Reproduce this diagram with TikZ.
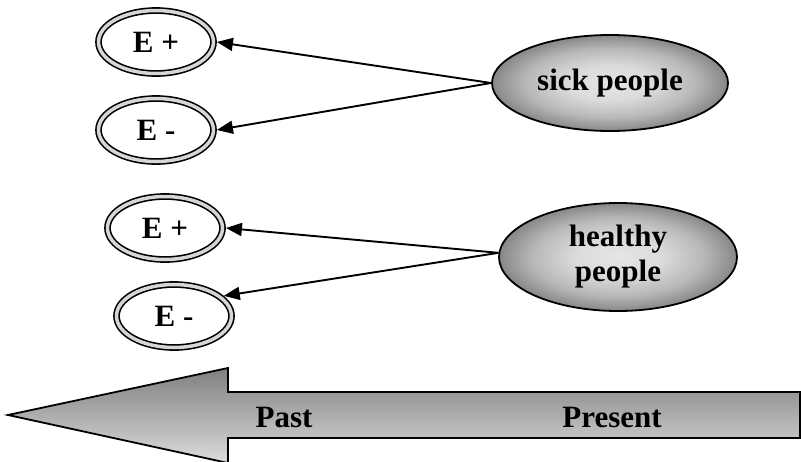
\documentclass[tikz,border=0pt]{standalone}
\usepackage{fontspec}
\setmainfont{Liberation Serif}
\usetikzlibrary{shapes.geometric,arrows.meta}
\pgfdeclareradialshading{grpshade}{\pgfpoint{0bp}{0bp}}{color(0bp)=(black!10); color(9bp)=(black!14); color(18bp)=(black!28); color(25bp)=(black!47); color(50bp)=(black!47)}
\begin{document}
\begin{tikzpicture}[x=1pt,y=-1pt,
  lbl/.style={font=\fontsize{31}{35}\selectfont\bfseries},
  expo/.style={ellipse, draw=black, line width=1.6pt, double=black!16, double distance=3.5pt,
    fill=white, minimum width=115pt, minimum height=63pt, inner sep=0pt, outer sep=3.4pt, lbl},
  grp/.style={ellipse, draw=black, line width=1.8pt, shading=grpshade,
    inner sep=0pt, lbl, align=center},
  conn/.style={line width=1.9pt, -{Triangle[length=16pt,width=13pt]}},
  timeline/.style={draw=black, line width=1.8pt, top color=black!50, bottom color=black!14}]
\useasboundingbox (0,0) rectangle (801,461);
\fill[white] (0,0) rectangle (801,461);

% timeline arrow
\draw[timeline] (8,415) -- (228,368) -- (228,392) -- (800,392) -- (800,438) -- (228,438) -- (228,463) -- cycle;
\node[lbl] (past) at (284,417) {Past};
\node[lbl] (present) at (612,417) {Present};

% exposure ellipses
\node[expo] (ep1) at (156,42) {E +};
\node[expo] (em1) at (156,130) {E -};
\node[expo] (ep2) at (165,228) {E +};
\node[expo] (em2) at (174,316) {E -};

% group ellipses
\node[grp, minimum width=236pt, minimum height=96pt] (sick) at (610,83) {sick people};
\node[grp, minimum width=238pt, minimum height=108pt] (healthy) at (618,257) {healthy\\people};

% connectors
\draw[conn] (sick.west) -- (ep1.east);
\draw[conn] (sick.west) -- (em1.east);
\draw[conn] (healthy.178) -- (ep2.east);
\draw[conn] (healthy.178) -- (em2.22);
\end{tikzpicture}
\end{document}
